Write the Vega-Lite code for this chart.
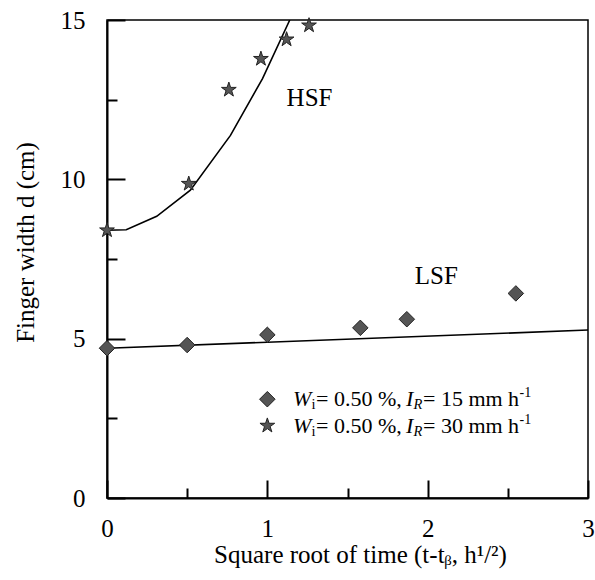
{
  "$schema": "https://vega.github.io/schema/vega-lite/v6.json",
  "width": 481,
  "height": 478,
  "autosize": {"type": "none"},
  "padding": {"left": 107, "top": 20, "right": 7, "bottom": 82},
  "background": "white",
  "config": {
    "view": {"stroke": "black", "strokeWidth": 1.5},
    "font": "Liberation Serif",
    "style": {
      "guide-label": {"font": "Liberation Serif", "fontSize": 25, "fill": "black"},
      "guide-title": {"font": "Liberation Serif", "fontSize": 25, "fontWeight": "normal", "fill": "black"}
    },
    "axis": {
      "grid": false,
      "domainColor": "black",
      "domainWidth": 2,
      "tickColor": "black",
      "tickWidth": 2,
      "labelFlush": false,
      "labelFont": "Liberation Serif",
      "labelFontSize": 25,
      "labelColor": "black",
      "titleFont": "Liberation Serif",
      "titleFontSize": 25,
      "titleFontWeight": "normal",
      "titleColor": "black"
    }
  },
  "datasets": {
    "fits": [
      {"series": "LSF", "t": 0, "d": 4.7},
      {"series": "LSF", "t": 3, "d": 5.27},
      {"series": "HSF", "t": 0, "d": 8.4},
      {"series": "HSF", "t": 0.12, "d": 8.42},
      {"series": "HSF", "t": 0.31, "d": 8.84},
      {"series": "HSF", "t": 0.52, "d": 9.66},
      {"series": "HSF", "t": 0.77, "d": 11.38},
      {"series": "HSF", "t": 0.97, "d": 13.16},
      {"series": "HSF", "t": 1.14, "d": 15.0}
    ],
    "obs": [
      {"series": "LSF", "t": 0, "d": 4.7},
      {"series": "LSF", "t": 0.5, "d": 4.8},
      {"series": "LSF", "t": 1.0, "d": 5.12},
      {"series": "LSF", "t": 1.58, "d": 5.34},
      {"series": "LSF", "t": 1.87, "d": 5.61},
      {"series": "LSF", "t": 2.55, "d": 6.42},
      {"series": "HSF", "t": 0, "d": 8.4},
      {"series": "HSF", "t": 0.51, "d": 9.86},
      {"series": "HSF", "t": 0.76, "d": 12.81},
      {"series": "HSF", "t": 0.96, "d": 13.78},
      {"series": "HSF", "t": 1.12, "d": 14.39},
      {"series": "HSF", "t": 1.26, "d": 14.83}
    ],
    "labels": [
      {"name": "HSF", "t": 1.12, "d": 12.55},
      {"name": "LSF", "t": 1.92, "d": 6.96}
    ],
    "legend": [
      {"series": "LSF", "ly": 3.1, "rate": "= 15 mm h"},
      {"series": "HSF", "ly": 2.27, "rate": "= 30 mm h"}
    ]
  },
  "resolve": {"axis": {"x": "independent", "y": "independent"}},
  "layer": [
    {
      "data": {"name": "fits"},
      "mark": {"type": "line", "color": "black", "strokeWidth": 1.6, "clip": true},
      "encoding": {
        "x": {
          "field": "t", "type": "quantitative",
          "scale": {"domain": [0, 3], "nice": false},
          "axis": {
            "orient": "bottom",
            "values": [0, 1, 2, 3],
            "format": "d",
            "tickSize": -18,
            "labelPadding": 36,
            "labelFlush": false,
            "labelFont": "Liberation Serif",
            "titleFont": "Liberation Serif",
            "title": "Square root of time (t-tᵦ, h¹/²)",
            "titleX": 253,
            "titleY": 56,
            "titleBaseline": "middle"
          }
        },
        "y": {
          "field": "d", "type": "quantitative",
          "scale": {"domain": [0, 15], "nice": false},
          "axis": {
            "orient": "left",
            "values": [0, 5, 10, 15],
            "format": "d",
            "tickSize": -18,
            "labelPadding": 40,
            "labelFlush": false,
            "labelFont": "Liberation Serif",
            "titleFont": "Liberation Serif",
            "title": "Finger width d (cm)",
            "titleX": -82,
            "titleY": 222,
            "titleBaseline": "middle",
            "titleAlign": "center"
          }
        },
        "detail": {"field": "series"}
      }
    },
    {
      "data": {"name": "obs"},
      "mark": {"type": "point", "filled": true, "color": "#555555", "stroke": "#222222", "strokeWidth": 1, "opacity": 1, "size": 240},
      "encoding": {
        "x": {
          "field": "t", "type": "quantitative",
          "axis": {"orient": "bottom", "values": [0.5, 1.5, 2.5], "labels": false, "domain": false, "title": null, "tickSize": -10}
        },
        "y": {
          "field": "d", "type": "quantitative",
          "axis": {"orient": "left", "values": [2.5, 7.5, 12.5], "labels": false, "domain": false, "title": null, "tickSize": -10}
        },
        "shape": {"field": "series", "type": "nominal", "scale": {"domain": ["LSF", "HSF"], "range": ["diamond", "M0,-1L0.225,-0.309L0.951,-0.309L0.363,0.118L0.588,0.809L0,0.382L-0.588,0.809L-0.363,0.118L-0.951,-0.309L-0.225,-0.309Z"]}, "legend": null}
      }
    },
    {
      "data": {"name": "legend"},
      "mark": {"type": "point", "filled": true, "color": "#555555", "stroke": "#222222", "strokeWidth": 1, "opacity": 1, "size": 240},
      "encoding": {
        "x": {"datum": 1.0, "type": "quantitative", "axis": null},
        "y": {"field": "ly", "type": "quantitative", "axis": null},
        "shape": {"field": "series", "type": "nominal", "legend": null}
      }
    },
    {
      "data": {"name": "labels"},
      "mark": {"type": "text", "align": "left", "baseline": "middle", "fontSize": 25, "font": "Liberation Serif", "color": "black"},
      "encoding": {
        "x": {"field": "t", "type": "quantitative", "axis": null},
        "y": {"field": "d", "type": "quantitative", "axis": null},
        "text": {"field": "name"}
      }
    },
    {
      "data": {"name": "legend"},
      "mark": {"type": "text", "align": "left", "baseline": "middle", "fontSize": 22, "fontStyle": "italic", "font": "Liberation Serif", "color": "black", "dx": 0},
      "encoding": {"x": {"datum": 1.16, "type": "quantitative", "axis": null}, "y": {"field": "ly", "type": "quantitative", "axis": null}, "text": {"value": "W"}}
    },
    {
      "data": {"name": "legend"},
      "mark": {"type": "text", "align": "left", "baseline": "middle", "fontSize": 14.5, "font": "Liberation Serif", "color": "black", "dx": 18.5, "dy": 6},
      "encoding": {"x": {"datum": 1.16, "type": "quantitative", "axis": null}, "y": {"field": "ly", "type": "quantitative", "axis": null}, "text": {"value": "i"}}
    },
    {
      "data": {"name": "legend"},
      "mark": {"type": "text", "align": "left", "baseline": "middle", "fontSize": 22, "font": "Liberation Serif", "color": "black", "dx": 23},
      "encoding": {"x": {"datum": 1.16, "type": "quantitative", "axis": null}, "y": {"field": "ly", "type": "quantitative", "axis": null}, "text": {"value": "= 0.50 %,"}}
    },
    {
      "data": {"name": "legend"},
      "mark": {"type": "text", "align": "left", "baseline": "middle", "fontSize": 22, "fontStyle": "italic", "font": "Liberation Serif", "color": "black", "dx": 113},
      "encoding": {"x": {"datum": 1.16, "type": "quantitative", "axis": null}, "y": {"field": "ly", "type": "quantitative", "axis": null}, "text": {"value": "I"}}
    },
    {
      "data": {"name": "legend"},
      "mark": {"type": "text", "align": "left", "baseline": "middle", "fontSize": 14.5, "fontStyle": "italic", "font": "Liberation Serif", "color": "black", "dx": 120.5, "dy": 6},
      "encoding": {"x": {"datum": 1.16, "type": "quantitative", "axis": null}, "y": {"field": "ly", "type": "quantitative", "axis": null}, "text": {"value": "R"}}
    },
    {
      "data": {"name": "legend"},
      "mark": {"type": "text", "align": "left", "baseline": "middle", "fontSize": 22, "font": "Liberation Serif", "color": "black", "dx": 130},
      "encoding": {"x": {"datum": 1.16, "type": "quantitative", "axis": null}, "y": {"field": "ly", "type": "quantitative", "axis": null}, "text": {"field": "rate"}}
    },
    {
      "data": {"name": "legend"},
      "mark": {"type": "text", "align": "left", "baseline": "middle", "fontSize": 14, "font": "Liberation Serif", "color": "black", "dx": 226.5, "dy": -6},
      "encoding": {"x": {"datum": 1.16, "type": "quantitative", "axis": null}, "y": {"field": "ly", "type": "quantitative", "axis": null}, "text": {"value": "-1"}}
    }
  ]
}
